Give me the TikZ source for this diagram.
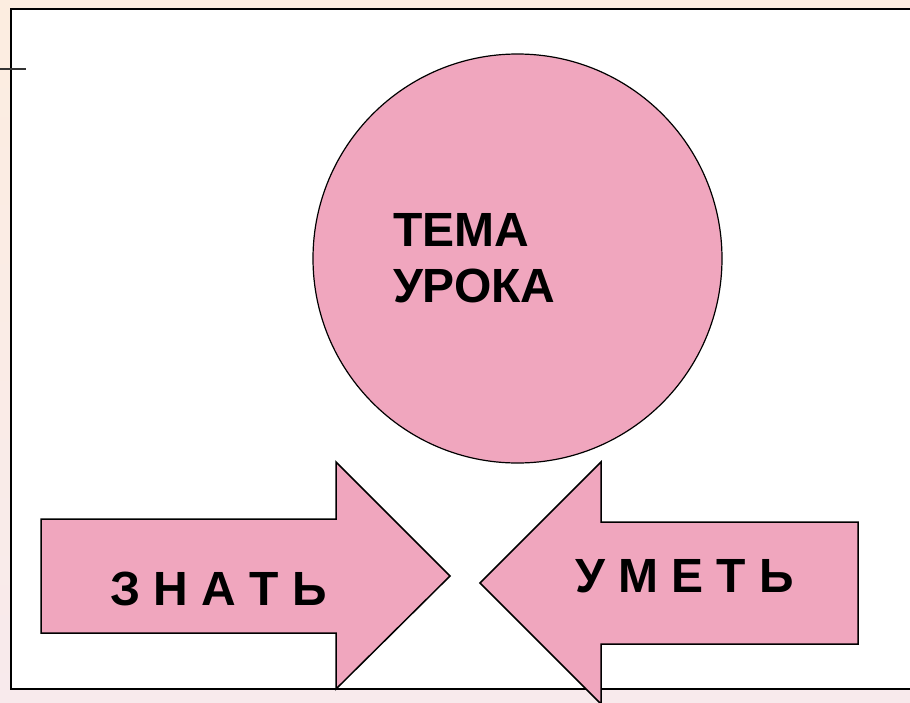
\documentclass[tikz,border=0pt]{standalone}
\usepackage{fontspec}
\setmainfont{Liberation Sans}
\definecolor{rosa}{RGB}{240,166,190}
\definecolor{fondtop}{RGB}{252,237,224}
\definecolor{fondbot}{RGB}{248,234,236}
\begin{document}
\begin{tikzpicture}[x=1pt, y=-1pt, line join=miter, font=\bfseries\fontsize{48}{56}\selectfont,
	shapebox/.style={draw=black, fill=rosa, line width=1.5pt},
	label/.style={inner sep=0pt, outer sep=0pt}]
	\useasboundingbox (0, 0) rectangle (910, 702);
	
	% Fond et cadre
	\shade[top color=fondtop, bottom color=fondbot] (0, 0) rectangle (910, 702);
	\fill[white] (11, 9) rectangle (912, 689);
	\draw[line width=2pt] (912, 9) -- (11, 9) -- (11, 689) -- (912, 689);
	\draw[line width=1.2pt, black!80] (0, 69) -- (26, 69);
	
	% Cercle
	\node[shapebox, circle, line width=1.2pt, minimum size=409pt] (cercle) at (517.5, 258.5) {};
	\node[label, align=left, anchor=base west] (tema) at (393, 302) {ТЕМА\\УРОКА};
	
	% Flèche ЗНАТЬ
	\draw[shapebox] (41, 519) -- (336, 519) -- (336, 462) -- (450, 576) -- (336, 689) -- (336, 633) -- (41, 633) -- cycle;
	\node[label, anchor=base west] (znat) at (110, 605) {З Н А Т Ь};
	
	% Flèche УМЕТЬ
	\draw[shapebox] (858, 522) -- (601, 522) -- (601, 462) -- (480, 583) -- (601, 704) -- (601, 644) -- (858, 644) -- cycle;
	\node[label, anchor=base west] (umet) at (575, 592) {У М Е Т Ь};
\end{tikzpicture}
\end{document}
